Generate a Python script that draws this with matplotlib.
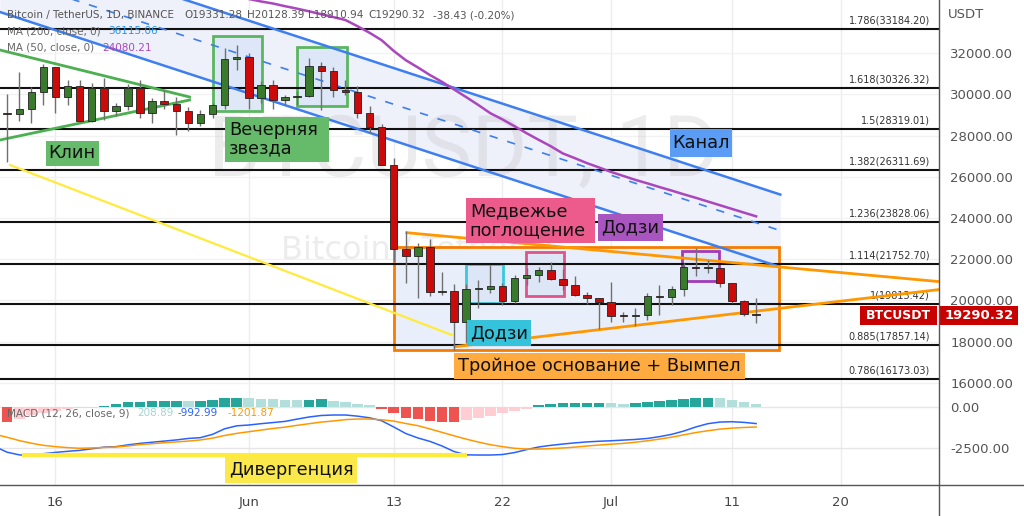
import matplotlib
matplotlib.use('Agg')
import matplotlib.pyplot as plt
from matplotlib.patches import Rectangle
from matplotlib.lines import Line2D
from matplotlib.transforms import blended_transform_factory

plt.rcParams['font.family'] = ['DejaVu Sans']

W, H = 1024, 516

# ---- data: day index counted from 2022-05-16 (day 0) ----
DAYS = list(range(-5, 59))
OPEN = [31000, 29080, 29030, 29290, 30090, 31320, 29860, 30420, 28710, 30300,
        29180, 29430, 30280, 29090, 29650, 29540, 29200, 28630, 29030, 29470,
        31730, 31800, 29800, 30450, 29700, 29860, 29920, 31370, 31130, 30200,
        30110, 29090, 28420, 26580, 22490, 22140, 22580, 20400, 20470, 18970,
        20570, 20580, 20720, 19990, 21110, 21230, 21490, 21040, 20740, 20280,
        20100, 19930, 19270, 19250, 19300, 20230, 20190, 20550, 21640, 21590,
        21590, 20860, 19970, 19331.28]
HIGH = [32200, 30030, 31080, 30340, 31460, 31330, 30700, 30670, 30540, 30780,
        29600, 30480, 30670, 29830, 30220, 29870, 29400, 29250, 29560, 32220,
        32400, 31980, 30650, 30690, 29950, 30170, 31760, 31550, 31330, 30700,
        30390, 29440, 28550, 26900, 23360, 22800, 22980, 21360, 20790, 20820,
        20990, 21720, 20870, 21230, 21560, 21610, 21870, 21540, 21200, 20400,
        20140, 20880, 19430, 19650, 20350, 20730, 20680, 21840, 22530, 21950,
        21610, 20870, 20040, 20128.39]
LOW = [27700, 26700, 28700, 28620, 29480, 29090, 29460, 28650, 28660, 28730,
       28950, 29240, 28850, 28630, 29300, 28020, 28200, 28450, 28860, 29300,
       31200, 29300, 29580, 29280, 29460, 29500, 29880, 29220, 29850, 29950,
       28850, 28100, 26560, 21930, 20850, 20110, 20230, 20250, 17620, 17960,
       19640, 20350, 19770, 19890, 20740, 20910, 21000, 20500, 20200, 19850,
       18630, 18980, 18980, 18780, 19050, 19300, 19760, 20240, 21180, 21320,
       20650, 19900, 19240, 18910.94]
CLOSE = [29080, 29030, 29290, 30090, 31320, 29860, 30420, 28710, 30300, 29180,
         29430, 30280, 29090, 29650, 29540, 29200, 28630, 29030, 29470, 31730,
         31800, 29800, 30450, 29700, 29860, 29920, 31370, 31130, 30200, 30110,
         29090, 28420, 26580, 22490, 22140, 22580, 20400, 20470, 18970, 20570,
         20580, 20720, 19990, 21110, 21230, 21490, 21040, 20740, 20280, 20100,
         19930, 19270, 19250, 19300, 20230, 20190, 20550, 21640, 21590, 21600,
         20860, 19970, 19330, 19290.32]

MA50_DAYS = list(range(14, 59))
MA50 = [34900, 34760, 34620, 34500, 34400, 34270, 34150, 34020, 33880, 33740,
        33600, 33300, 32980, 32620, 32100, 31650, 31300, 30930, 30600, 30230,
        29860, 29480, 29080, 28780, 28450, 28110, 27790, 27480, 27130, 26900,
        26660, 26450, 26230, 26040, 25850, 25680, 25500, 25330, 25150, 24980,
        24800, 24620, 24440, 24260, 24080.21]

MACD_HIST = [-850, -870, -700, -480, -330, -200, -110, -50, -15, 80,
             200, 300, 345, 370, 380, 390, 385, 392, 450, 580,
             595, 550, 515, 505, 450, 430, 470, 510, 390, 300,
             180, 140, -100, -370, -670, -730, -830, -915, -920, -790,
             -670, -510, -365, -200, -80, 140, 200, 285, 287, 290,
             292, 280, 200, 285, 345, 405, 470, 510, 590, 595,
             585, 450, 345, 208.89]
MACD_LINE = [-2400, -2740, -2900, -2950, -2830, -2750, -2685, -2625, -2530, -2430,
             -2400, -2290, -2200, -2130, -2060, -1990, -1900, -1850, -1650, -1310,
             -1130, -1080, -1000, -930, -860, -720, -590, -500, -470, -470,
             -540, -640, -820, -1200, -1600, -1870, -2080, -2360, -2700, -2900,
             -2910, -2910, -2880, -2760, -2580, -2420, -2320, -2240, -2170, -2110,
             -2070, -2040, -2000, -1960, -1900, -1790, -1650, -1450, -1200, -1000,
             -900, -880, -920, -992.99]
SIGNAL = [-1650, -1830, -2030, -2190, -2320, -2400, -2460, -2500, -2480, -2450,
          -2420, -2360, -2270, -2220, -2160, -2110, -2060, -1990, -1880, -1720,
          -1590, -1490, -1390, -1290, -1210, -1100, -1000, -900, -835, -750,
          -715, -715, -760, -840, -990, -1120, -1320, -1530, -1740, -1940,
          -2120, -2280, -2400, -2500, -2545, -2545, -2520, -2480, -2430, -2360,
          -2300, -2250, -2200, -2130, -2040, -1940, -1820, -1680, -1540, -1430,
          -1330, -1270, -1230, -1201.87]

FIB_RATIOS = ['1.786', '1.618', '1.5', '1.382', '1.236', '1.114', '1', '0.885', '0.786']
FIB_PRICES = [33184.20, 30326.32, 28319.01, 26311.69, 23828.06, 21752.70, 19813.42, 17857.14, 16173.03]

DATE_TICKS = [0, 16, 28, 37, 46, 56, 65]
DATE_LABELS = ['16', 'Jun', '13', '22', 'Jul', '11', '20']

# drawings (day, price)
CH_X = [-4.6, 60.0]
CH_UPPER = [37518, 25137]
CH_LOWER = [33988, 21624]
CH_MID = [35752, 23389]
WEDGE_X = [-4.6, 11.1]
WEDGE_UP = [32146, 29867]
WEDGE_LO = [27782, 29721]
YEL_X = [-3.77, 32.8]
YEL_Y = [26570, 18327]
PEN_UP_X, PEN_UP_Y = [29.08, 74.0], [23287, 20870]
PEN_LO_X, PEN_LO_Y = [33.07, 74.0], [17760, 20590]
DIV_X, DIV_Y = [-2.8, 34.1], [-2910, -2910]

# pattern frames: (day0, day1, price_lo, price_hi, edge)
FRAMES = [(13.06, 17.12, 29202, 32839, '#4caf50'),
          (19.97, 24.11, 29430, 32305, '#4caf50'),
          (33.96, 37.06, 19893, 21770, '#26c6da'),
          (38.98, 42.06, 20218, 22337, '#e0457b'),
          (51.90, 54.95, 20945, 22415, '#9c27b0')]

# label boxes: (day0, day1, y_lo, y_hi, color, text, text_x, text_y, ha)
LABELS = [(-0.79, 3.58, 26521, 27748, '#66bb6a', 'Клин', 1.39, 27137, 'center'),
          (14.03, 22.64, 26730, 28912, '#66bb6a', 'Вечерняя\nзвезда', 14.36, 27830, 'left'),
          (50.87, 56.03, 26972, 28300, '#5b9cf5', 'Канал', 53.45, 27636, 'center'),
          (33.98, 44.66, 22773, 24984, '#ec5b8c', 'Медвежье\nпоглощение', 34.3, 23879, 'left'),
          (44.93, 50.26, 22900, 24179, '#a855c0', 'Додзи', 47.6, 23540, 'center'),
          (34.05, 39.36, 17794, 19054, '#35c2db', 'Додзи', 36.7, 18424, 'center'),
          (33.01, 57.08, 16180, 17440, '#ffab40', 'Тройное основание + Вымпел', 45.05, 16810, 'center')]

fig = plt.figure(figsize=(W / 100, H / 100), dpi=100)
fig.patch.set_facecolor('white')
ax = fig.add_axes([0, 123 / H, 939 / W, 393 / H])
mx = fig.add_axes([0, 31 / H, 939 / W, 92 / H], sharex=ax)

XL = (-55.5 / 12.08, (939 - 55.5) / 12.08)
ax.set_xlim(*XL)
ax.set_ylim(15515, 34570)
mx.set_ylim(-4738, 872)

for a in (ax, mx):
    for s in a.spines.values():
        s.set_visible(False)
    a.set_facecolor('none')
    for d in DATE_TICKS:
        a.axvline(d, color='#ececec', lw=1, zorder=0)

for p in range(16000, 34000, 2000):
    ax.axhline(p, color='#f2f2f2', lw=1, zorder=0)
for v in (0, -2500):
    mx.axhline(v, color='#e6e6e6', lw=1, zorder=0)

# channel
ax.fill_between(CH_X, CH_LOWER, CH_UPPER, color='#eef0fa', zorder=1, lw=0)
ax.plot(CH_X, CH_UPPER, color='#3d7ff0', lw=1.8, zorder=3.5)
ax.plot(CH_X, CH_LOWER, color='#3d7ff0', lw=1.8, zorder=3.5)
ax.plot(CH_X, CH_MID, color='#3d7ff0', lw=1.2, ls=(0, (5, 6)), zorder=3.5)

# watermark
ax.text(33.8, 27200, 'BTCUSDT, 1D', family=['Roboto', 'DejaVu Sans'], fontsize=61,
        color='#bdbdbd', alpha=0.28, ha='center', va='center', zorder=1.2)
ax.text(30.4, 22450, 'Bitcoin / TetherUS', fontsize=23, color='#bdbdbd', alpha=0.28,
        ha='center', va='center', zorder=1.2)

# pennant box
ax.add_patch(Rectangle((27.99, 17600), 59.89 - 27.99, 22579 - 17600, fc='#e8eefa',
                       ec='#f57c00', lw=2, zorder=1.4))

for d0, d1, lo, hi, ec in FRAMES:
    ax.add_patch(Rectangle((d0, lo), d1 - d0, hi - lo, fc='#dce6f7', ec=ec, lw=2,
                           alpha=0.9, zorder=1.6))

# fib levels
for r, p in zip(FIB_RATIOS, FIB_PRICES):
    ax.axhline(p, color='#111111', lw=1.5, zorder=3)
    ax.annotate('%s(%.2f)' % (r, p), xy=(72.4, p), xytext=(0, 2.5), textcoords='offset points',
                ha='right', va='bottom', fontsize=7, color='#333333', zorder=3)

ax.plot(MA50_DAYS, MA50, color='#ab47bc', lw=1.8, zorder=3.5)
ax.plot(WEDGE_X, WEDGE_UP, color='#4caf50', lw=2, zorder=3.5)
ax.plot(WEDGE_X, WEDGE_LO, color='#4caf50', lw=2, zorder=3.5)
ax.plot(YEL_X, YEL_Y, color='#ffeb3b', lw=1.6, zorder=3.5)
ax.plot(PEN_UP_X, PEN_UP_Y, color='#ff9800', lw=2, zorder=3.6)
ax.plot(PEN_LO_X, PEN_LO_Y, color='#ff9800', lw=2, zorder=3.6)

# candles
up = [c >= o for o, c in zip(OPEN, CLOSE)]
cols = ['#3a7a2c' if u else '#cc0a0a' for u in up]
ax.vlines(DAYS, LOW, HIGH, color='#707070', lw=1, zorder=4)
bottoms = [min(o, c) for o, c in zip(OPEN, CLOSE)]
heights = [max(abs(c - o), 40) for o, c in zip(OPEN, CLOSE)]
ax.bar(DAYS, heights, bottom=bottoms, width=0.62, color=cols, edgecolor='#222222',
       lw=0.6, zorder=4.5)

# label boxes
for d0, d1, lo, hi, fc, txt, tx, ty, ha in LABELS:
    ax.add_patch(Rectangle((d0, lo), d1 - d0, hi - lo, fc=fc, ec='none', zorder=6))
    ax.text(tx, ty, txt, ha=ha, va='center', fontsize=12.8, color='#111111',
            linespacing=1.05, zorder=7)

# right axis
ax.yaxis.tick_right()
ax.set_yticks(range(16000, 34000, 2000))
ax.set_yticklabels(['%.2f' % v for v in range(16000, 34000, 2000)])
ax.tick_params(axis='y', length=0, pad=8, labelsize=9.5, labelcolor='#555555')
ax.tick_params(axis='x', length=0, labelbottom=False)

# last price tag
bt = blended_transform_factory(ax.transAxes, ax.transData)
last = CLOSE[-1]
ax.add_patch(Rectangle((860 / 939, last - 460), 77 / 939, 920, transform=bt,
                       fc='#c80000', ec='none', clip_on=False, zorder=10))
ax.add_patch(Rectangle((940 / 939, last - 460), 78 / 939, 920, transform=bt,
                       fc='#c80000', ec='none', clip_on=False, zorder=10))
ax.text(898.5 / 939, last, 'BTCUSDT', transform=bt, ha='center', va='center',
        color='white', fontsize=9, fontweight='bold', clip_on=False, zorder=11)
ax.text(979 / 939, last, '%.2f' % last, transform=bt, ha='center', va='center',
        color='white', fontsize=9.5, fontweight='bold', clip_on=False, zorder=11)

# MACD panel
hcols = []
prev = None
for h in MACD_HIST:
    rising = prev is None or h > prev
    if h >= 0:
        hcols.append('#26a69a' if rising else '#b2dfdb')
    else:
        hcols.append('#ffcdd2' if rising else '#ef5350')
    prev = h
mx.bar(DAYS, MACD_HIST, width=0.88, color=hcols, zorder=2)
mx.plot(DAYS, MACD_LINE, color='#2962ff', lw=1.1, zorder=3)
mx.plot(DAYS, SIGNAL, color='#ff9800', lw=1.1, zorder=3)
mx.plot(DIV_X, DIV_Y, color='#ffeb3b', lw=3, zorder=3.5, solid_capstyle='butt')
mx.add_patch(Rectangle((14.03, -4634), 24.93 - 14.03, 4634 - 3012, fc='#fbe94c',
                       ec='none', zorder=6))
mx.text(19.5, -3823, 'Дивергенция', ha='center', va='center', fontsize=12.8,
        color='#111111', zorder=7)

mx.yaxis.tick_right()
mx.set_yticks([0, -2500])
mx.set_yticklabels(['0.00', '-2500.00'])
mx.tick_params(axis='y', length=0, pad=8, labelsize=9.5, labelcolor='#555555')
mx.set_xticks(DATE_TICKS)
mx.set_xticklabels(DATE_LABELS)
mx.tick_params(axis='x', length=0, pad=8, labelsize=9.5, labelcolor='#444444')
mx.set_xlim(*XL)


def ftext(xp, yp, s, **kw):
    fig.text(xp / W, 1 - yp / H, s, va='center', **kw)


ftext(948, 15, 'USDT', fontsize=9.5, color='#555555')
ftext(7, 15, 'Bitcoin / TetherUS, 1D, BINANCE', fontsize=7.5, color='#555555')
ftext(184, 15, 'O19331.28', fontsize=7.5, color='#555555')
ftext(247, 15, 'H20128.39', fontsize=7.5, color='#555555')
ftext(308, 15, 'L18910.94', fontsize=7.5, color='#555555')
ftext(368, 15, 'C19290.32', fontsize=7.5, color='#555555')
ftext(433, 15, '-38.43 (-0.20%)', fontsize=7.5, color='#555555')
ftext(7, 31, 'MA (200, close, 0)', fontsize=7.5, color='#666666')
ftext(108, 31, '36115.06', fontsize=7.5, color='#2196f3')
ftext(7, 48, 'MA (50, close, 0)', fontsize=7.5, color='#666666')
ftext(102, 48, '24080.21', fontsize=7.5, color='#ab47bc')
ftext(7, 413, 'MACD (12, 26, close, 9)', fontsize=7.5, color='#666666')
ftext(137, 413, '208.89', fontsize=7.5, color='#9fd6d0')
ftext(178, 413, '-992.99', fontsize=7.5, color='#2962ff')
ftext(227, 413, '-1201.87', fontsize=7.5, color='#ff9800')

fig.add_artist(Line2D([939 / W, 939 / W], [0, 1], color='#555555', lw=1))
fig.add_artist(Line2D([0, 1], [31 / H, 31 / H], color='#555555', lw=1))

fig.savefig('out.png', dpi=100)
